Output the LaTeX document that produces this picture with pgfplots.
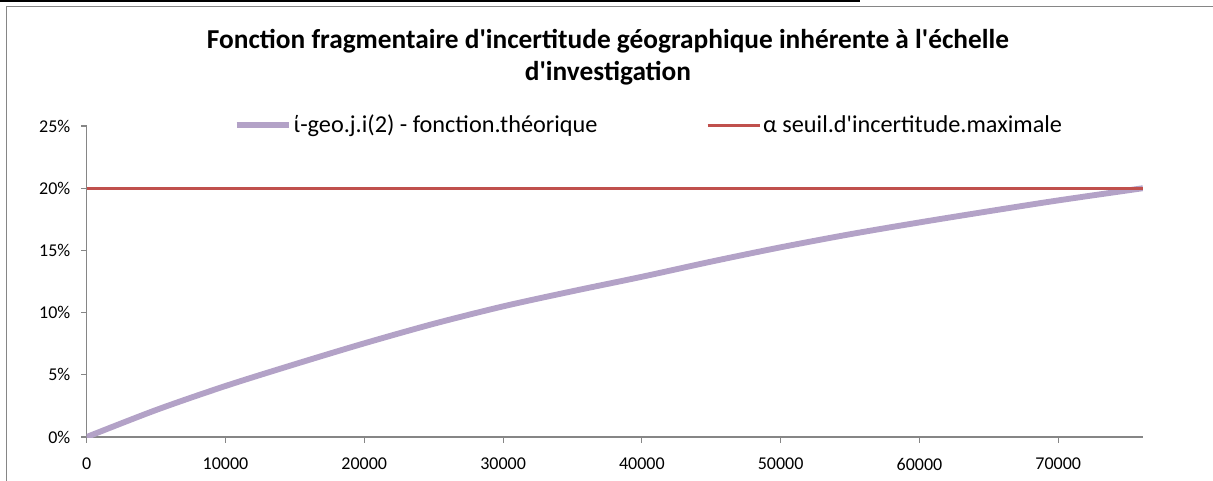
\documentclass[border=0pt]{standalone}
\usepackage{fontspec}
\setmainfont{Carlito}[Ligatures=TeXOff]
\usepackage{pgfplots}
\pgfplotsset{compat=1.18}
\definecolor{lav}{HTML}{B3A2C7}
\definecolor{exred}{HTML}{C0504D}
\definecolor{axgray}{HTML}{868686}
\begin{document}
\begin{tikzpicture}
\path[use as bounding box] (0,0) rectangle (909.75pt,360pt);
\draw[black, line width=1.2pt] (0,359.4pt) -- (645pt,359.4pt);
\draw[axgray, line width=0.9pt] (4.8pt,-5pt) -- (4.8pt,355pt) -- (915pt,355pt);
\node[font=\bfseries\fontsize{20.5}{24}\selectfont, align=center] at (456pt,317pt)
  {Fonction fragmentaire d'incertitude géographique inhérente à l'échelle\\d'investigation};
\begin{axis}[
  at={(65pt,32.25pt)}, anchor=south west,
  scale only axis, width=792.2pt, height=233.25pt,
  xmin=0, xmax=76100, ymin=0, ymax=25,
  axis x line*=bottom, axis y line*=left,
  axis line style={axgray, line width=0.8pt, -},
  xtick={0,10000,...,70000}, ytick={0,5,...,25},
  scaled x ticks=false,
  tick align=outside, major tick length=4.2pt,
  every tick/.style={axgray, line width=0.8pt},
  /pgf/number format/assume math mode=true,
  /pgf/number format/1000 sep={},
  yticklabel={\pgfmathprintnumber{\tick}\%},
  ticklabel style={font=\fontsize{13.5}{16}\selectfont, black},
  x tick label style={yshift=-8pt},
  y tick label style={xshift=-4.5pt},
  legend style={at={(rel axis cs:0.1390,1.003)}, anchor=west, draw=none, fill=none,
    inner sep=0pt, font=\fontsize{18.2}{20}\selectfont, legend columns=2,
    nodes={inner xsep=1.5pt},
    /tikz/every even column/.append style={column sep=80pt}},
  legend cell align=left,
  legend image code/.code={\draw[#1] (0pt,0pt) -- (39pt,0pt);},
]
\addplot[lav, line width=4.4pt, smooth] coordinates {
(0,0) (5000,2.17) (10000,4.1) (15000,5.85) (20000,7.53) (25000,9.1) (30000,10.5)
(35000,11.72) (40000,12.88) (45000,14.1) (50000,15.25) (55000,16.3) (60000,17.25)
(65000,18.15) (70000,19.02) (76100,20.0)};
\addlegendentry{ί-geo.j.i(2) - fonction.théorique}
\addplot[exred, line width=2.2pt] coordinates {(0,20) (76100,20)};
\addlegendentry{α seuil.d'incertitude.maximale}
\end{axis}
\end{tikzpicture}
\end{document}
